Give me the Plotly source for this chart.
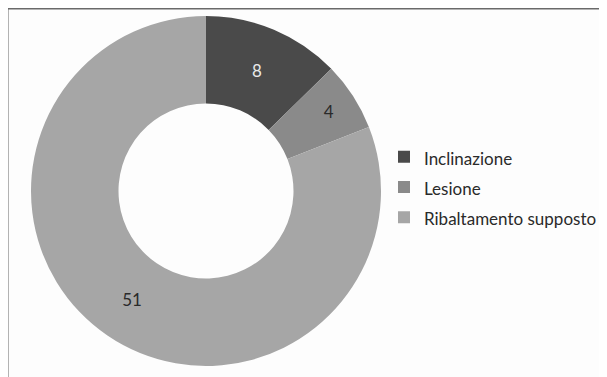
import plotly.graph_objects as go

labels = ["Inclinazione", "Lesione", "Ribaltamento supposto"]
values = [8, 4, 51]
colors = ["#4a4a4a", "#8a8a8a", "#a6a6a6"]
text_colors = ["#e8e8e8", "#2a2a2a", "#2a2a2a"]

# page body has an 8px margin, so the figure is sized/positioned to compensate
OFF = 8
W, H = 607 - OFF, 377 - OFF

def px(x):
    return (x - OFF) / W

def py(y):
    return 1 - (y - OFF) / H

legend_labels = ['<span style="font-size:17px">%s</span>' % s for s in labels]

fig = go.Figure(go.Pie(
    labels=legend_labels,
    values=values,
    hole=0.5,
    sort=False,
    direction="clockwise",
    rotation=0,
    marker=dict(colors=colors, line=dict(width=0)),
    textinfo="value",
    textposition="inside",
    insidetextorientation="horizontal",
    insidetextfont=dict(family="Lato", size=17, color=text_colors),
    domain=dict(x=[px(31), px(381)], y=[py(366), py(16)]),
    hoverinfo="value",
))

fig.update_layout(
    width=W, height=H,
    margin=dict(l=0, r=0, t=0, b=0),
    paper_bgcolor="#fdfdfd",
    plot_bgcolor="#fdfdfd",
    font=dict(family="Lato", size=17, color="#2a2a2a"),
    showlegend=True,
    legend=dict(
        x=px(384), y=py(187), xanchor="left", yanchor="middle",
        font=dict(family="Lato", size=21, color="#2a2a2a"),
        bgcolor="rgba(0,0,0,0)",
        itemwidth=30,
    ),
    shapes=[
        dict(type="line", xref="paper", yref="paper",
             x0=0, x1=1, y0=py(8.5), y1=py(8.5),
             line=dict(color="#6a6a6a", width=2)),
        dict(type="line", xref="paper", yref="paper",
             x0=px(7.5), x1=px(7.5), y0=0, y1=1,
             line=dict(color="#6a6a6a", width=2)),
    ],
)

fig.write_html("out.html")
